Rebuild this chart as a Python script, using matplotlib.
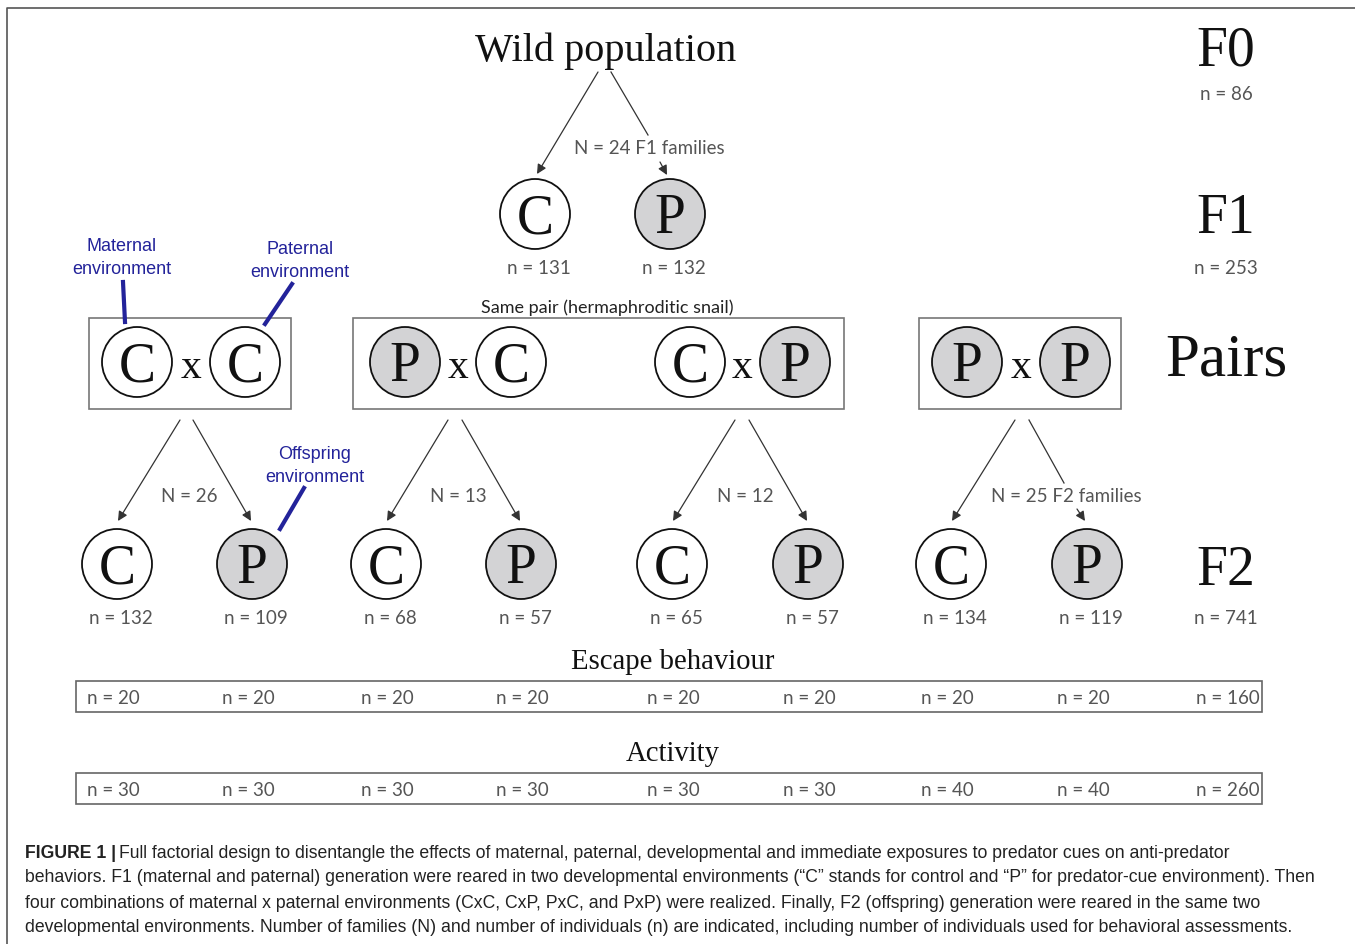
import matplotlib.pyplot as plt
from matplotlib.patches import Circle, Rectangle, FancyArrowPatch

# --- data ---
gen_labels = ['F0', 'F1', 'Pairs', 'F2']
gen_n = [86, 253, None, 741]
f1_types = ['C', 'P']
f1_n = [131, 132]
f1_families = 24
pairs = [('C', 'C'), ('P', 'C'), ('C', 'P'), ('P', 'P')]
pair_families = [26, 13, 12, 25]
f2_types = ['C', 'P', 'C', 'P', 'C', 'P', 'C', 'P']
f2_n = [132, 109, 68, 57, 65, 57, 134, 119]
escape_n = [20, 20, 20, 20, 20, 20, 20, 20, 160]
activity_n = [30, 30, 30, 30, 30, 30, 40, 40, 260]

SERIF = ['Liberation Serif', 'DejaVu Serif']
SANS = ['Lato', 'DejaVu Sans']
GREY = '#555555'
BLUE = '#23239a'
FILL = {'C': 'white', 'P': '#d3d3d5'}
R = 35

fig = plt.figure(figsize=(13.55, 9.45), dpi=100)
ax = fig.add_axes([0, 0, 1, 1])
ax.set_xlim(0, 1355)
ax.set_ylim(945, 0)
ax.axis('off')

# outer frame
ax.plot([7, 7, 1355], [945, 9, 9], color='#555555', lw=1.2)


def node(x, y, t):
    ax.add_patch(Circle((x, y), R, facecolor=FILL[t], edgecolor='#111111', lw=1.3))
    ax.text(x, y + 4, t, family=SERIF, fontsize=40, ha='center', va='center', color='#111111')


def arrow(x0, y0, x1, y1):
    ax.add_patch(FancyArrowPatch((x0, y0), (x1, y1), arrowstyle='-|>', mutation_scale=14,
                                 lw=0.9, color='#333333', shrinkA=0, shrinkB=0))


def ntext(x, y, s, size=13.5):
    ax.text(x, y + 1, s, family=SANS, fontsize=size, ha='center', va='center', color=GREY)


# F0
ax.text(606, 51, 'Wild population', family=SERIF, fontsize=29, ha='center', va='center', color='#111111')

# generation labels
gen_y = [51, 219, 361, 571]
gen_size = [40, 40, 44, 40]
gen_ny = [94, 268, None, 617]
for lab, n, y, fs, ny in zip(gen_labels, gen_n, gen_y, gen_size, gen_ny):
    ax.text(1226, y, lab, family=SERIF, fontsize=fs, ha='center', va='center', color='#111111')
    if n is not None:
        ntext(1226, ny, f'n = {n}')

# F1
arrow(598, 73, 537, 175)
ax.plot([611, 648], [73, 136], color='#333333', lw=0.9)
arrow(660, 163, 667, 176)
ntext(649, 147, f'N = {f1_families} F1 families')
f1_x = [535, 670]
for x, t, n in zip(f1_x, f1_types, f1_n):
    node(x, 215, t)
    ntext(x + 4, 268, f'n = {n}')

# pair boxes
boxes = [(89, 291), (353, 844), (919, 1121)]
for x0, x1 in boxes:
    ax.add_patch(Rectangle((x0, 319), x1 - x0, 91, fill=False, edgecolor='#777777', lw=1.2))
ax.text(607, 308, 'Same pair (hermaphroditic snail)', family=SANS, fontsize=13,
        ha='center', va='center', color='#222222')

pair_x = [(137, 245), (405, 511), (690, 795), (967, 1075)]
for (a, b), (xa, xb) in zip(pairs, pair_x):
    node(xa, 363, a)
    node(xb, 363, b)
    ax.text((xa + xb) / 2, 368, 'x', family=SERIF, fontsize=30, ha='center', va='center', color='#111111')

# arrows to F2
split_x = [(180, 193), (448, 462), (735, 749), (1015, 1029)]
f2_x = [117, 252, 386, 521, 672, 808, 951, 1087]
for i, ((sl, sr), N) in enumerate(zip(split_x, pair_families)):
    cx, px = f2_x[2 * i], f2_x[2 * i + 1]
    arrow(sl, 421, cx + 1, 522)
    if i < 3:
        arrow(sr, 421, px - 1, 522)
        ntext((sl + sr) / 2 + 3, 496, f'N = {N}')
    else:
        ax.plot([sr, 1064], [421, 484], color='#333333', lw=0.9)
        arrow(1077, 510, 1085, 522)
        ntext(1066, 496, f'N = {N} F2 families')

for x, t, n in zip(f2_x, f2_types, f2_n):
    node(x, 565, t)
    ntext(x + 4, 617, f'n = {n}')

# blue annotations
for txt, (tx, ty), (lx, ly) in [('Maternal\nenvironment', (122, 258), ([123, 125], [283, 323])),
                                ('Paternal\nenvironment', (300, 261), ([292, 265], [285, 325])),
                                ('Offspring\nenvironment', (315, 466), ([304, 280], [489, 530]))]:
    ax.text(tx, ty, txt, family=['Liberation Sans'], fontsize=13,
            ha='center', va='center', color=BLUE, linespacing=1.45)
    ax.plot(lx, ly, color=BLUE, lw=3)

# behaviour rows
row_x = [113, 248, 387, 522, 673, 809, 947, 1083, 1228]
for title, ty, by, vals in [('Escape behaviour', 662, 682, escape_n), ('Activity', 754, 774, activity_n)]:
    ax.text(673, ty, title, family=SERIF, fontsize=20.7, ha='center', va='center', color='#111111')
    ax.add_patch(Rectangle((76, by), 1186, 31, fill=False, edgecolor='#666666', lw=1.2))
    for x, v in zip(row_x, vals):
        ntext(x, by + 16, f'n = {v}')

# caption
cap = ['Full factorial design to disentangle the effects of maternal, paternal, developmental and immediate exposures to predator cues on anti-predator',
       'behaviors. F1 (maternal and paternal) generation were reared in two developmental environments (\u201cC\u201d stands for control and \u201cP\u201d for predator-cue environment). Then',
       'four combinations of maternal x paternal environments (CxC, CxP, PxC, and PxP) were realized. Finally, F2 (offspring) generation were reared in the same two',
       'developmental environments. Number of families (N) and number of individuals (n) are indicated, including number of individuals used for behavioral assessments.']
CAPF = ['Liberation Sans']
bold = ax.text(25, 853, 'FIGURE 1 |', family=CAPF, fontsize=12.7, fontweight='bold',
               ha='left', va='center', color='#222222')
fig.canvas.draw()
bb = bold.get_window_extent(fig.canvas.get_renderer())
x_after = ax.transData.inverted().transform((bb.x1, 0))[0] + 3
for i, line in enumerate(cap):
    ax.text(x_after if i == 0 else 25, 853 + 25 * i, line, family=CAPF, fontsize=12.7,
            ha='left', va='center', color='#222222')

fig.savefig('out.png', dpi=100)
